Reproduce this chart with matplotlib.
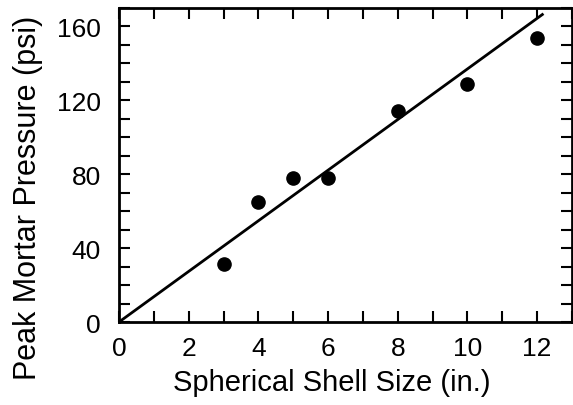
import numpy as np
import matplotlib.pyplot as plt
from matplotlib.ticker import MultipleLocator

plt.rcParams['font.family'] = ['Liberation Sans', 'DejaVu Sans']

# measured data
shell_size = [3, 4, 5, 6, 8, 10, 12]
peak_pressure = [31.6, 65, 77.8, 77.8, 114, 129, 154]

# fitted line through origin
fit_x = [0, 12.15]
fit_slope = 13.7

fig = plt.figure(figsize=(5.73, 4.06), dpi=100)
ax = fig.add_axes([0.2077, 0.2044, 0.7905, 0.7735])

fx = np.array(fit_x)
ax.plot(fx, fit_slope * fx, color='black', linewidth=2)
ax.plot(shell_size, peak_pressure, 'o', color='black', markersize=9.5)

ax.set_xlim(0, 13)
ax.set_ylim(0, 170)
ax.xaxis.set_major_locator(MultipleLocator(2))
ax.xaxis.set_minor_locator(MultipleLocator(1))
ax.yaxis.set_major_locator(MultipleLocator(40))
ax.yaxis.set_minor_locator(MultipleLocator(10))
ax.tick_params(which='both', direction='in', top=True, right=True,
               width=1.5, length=8, labelsize=19)
ax.tick_params(axis='x', which='major', pad=10)
ax.tick_params(axis='y', which='major', pad=13)
for s in ax.spines.values():
    s.set_linewidth(2)

ax.set_xlabel('Spherical Shell Size (in.)', fontsize=21, labelpad=6, x=0.47)
# y label sits a bit below the axes centre in the original
fig.text(28 / 573, 0.513, 'Peak Mortar Pressure (psi)', fontsize=22,
         rotation=90, ha='center', va='center')

fig.savefig('out.png', dpi=100)
